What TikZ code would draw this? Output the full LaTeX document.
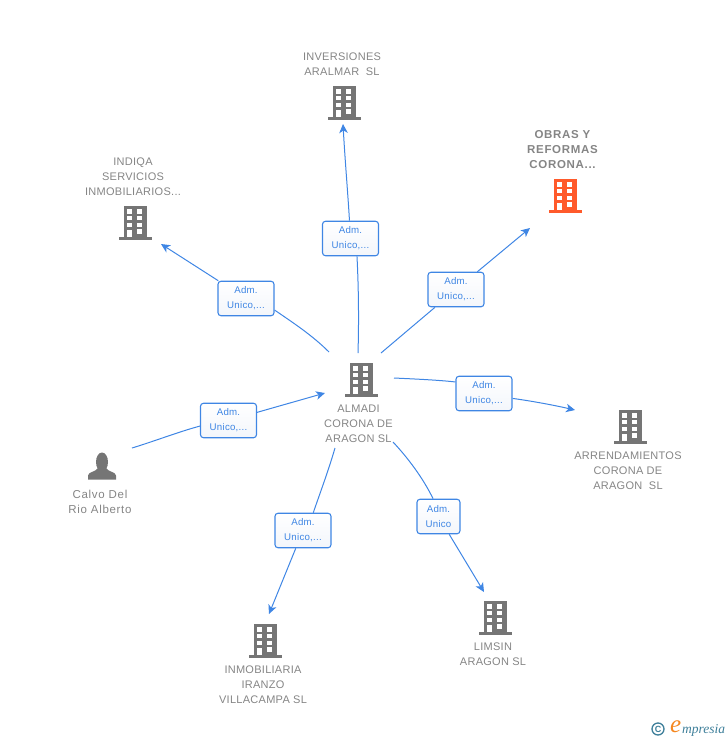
\documentclass[tikz,border=0pt]{standalone}
\usepackage{fontspec}
\setmainfont{Liberation Sans}
\newfontfamily\spaced[LetterSpace=2.5]{Liberation Sans}
\newfontfamily\widespaced[LetterSpace=6]{Liberation Sans}
\newfontfamily\logofont{Liberation Serif}
\newfontfamily\logosans{Liberation Sans}
\usetikzlibrary{arrows.meta,backgrounds,shapes.geometric}
\definecolor{linkblue}{HTML}{3F86E4}
\definecolor{txtgray}{HTML}{858585}
\definecolor{icongray}{HTML}{757575}
\definecolor{orangeic}{HTML}{FF5A2B}
\definecolor{logoblue}{HTML}{3E7F9A}
\definecolor{logoorange}{HTML}{F5871F}
\definecolor{boxshade}{HTML}{F3F6FB}
\tikzset{
  x=1pt,y=-1pt,
  rolebox/.style={draw=linkblue,line width=1.1pt,rounded corners=3pt,top color=white,bottom color=boxshade,minimum width=56pt,minimum height=34.5pt,inner sep=0pt,align=center,text=linkblue,font=\fontsize{9.7}{15}\selectfont\spaced},
  nametxt/.style={inner sep=0pt,align=center,text=txtgray,font=\fontsize{11}{15}\selectfont\spaced},
  conn/.style={draw=linkblue,line width=1pt},
  arr/.style={conn,-{Stealth[length=9pt,width=8.5pt,inset=2.5pt]}},
  pics/building/.style={code={
    \fill[#1] (-11,-17) rectangle (11.5,15);
    \fill[#1] (-16,14) rectangle (16.5,17);
    \foreach \yy in {-13.7,-7,-0.3}{
      \fill[white] (-7.8,\yy) rectangle (-2.9,\yy+4.2);
      \fill[white] (2.3,\yy) rectangle (7.2,\yy+4.2);
    }
    \fill[white] (2.3,6.4) rectangle (7.2,10.6);
    \fill[white] (-7.8,7) rectangle (-2.9,14);
  }},
  pics/person/.style={code={
    \fill[icongray] (0,-5) ellipse (6 and 9.5);
    \fill[icongray] (-14,12.5) -- (-14,8.5) .. controls (-13.5,4.5) and (-6,5) .. (-4,1) -- (4,1)
      .. controls (6,5) and (13.5,4.5) .. (14,8.5) -- (14,12.5) -- cycle;
  }}
}
\begin{document}
\begin{tikzpicture}
\useasboundingbox (0,0) rectangle (728,740);
% icons
\pic at (361,380) {building=icongray};
\pic at (344,103) {building=icongray};
\pic at (565,196) {building=orangeic};
\pic at (135,223) {building=icongray};
\pic at (630,427) {building=icongray};
\pic at (495,618) {building=icongray};
\pic at (265,641) {building=icongray};
\pic at (102,467) {person};
% names
\node[nametxt] (almadi) at (358.5,424) {ALMADI\\CORONA DE\\ARAGON SL};
\node[nametxt] (inver) at (342,64.5) {INVERSIONES\\ARALMAR\ \ SL};
\node[nametxt,font=\fontsize{11.5}{15}\selectfont\bfseries\widespaced] (obras) at (562.5,150) {OBRAS Y\\REFORMAS\\CORONA...};
\node[nametxt] (indiqa) at (133,177) {INDIQA\\SERVICIOS\\INMOBILIARIOS...};
\node[nametxt] (arrend) at (628,471) {ARRENDAMIENTOS\\CORONA DE\\ARAGON\ \ SL};
\node[nametxt] (limsin) at (493,654.5) {LIMSIN\\ARAGON SL};
\node[nametxt] (inmob) at (263,685) {INMOBILIARIA\\IRANZO\\VILLACAMPA SL};
\node[nametxt,font=\fontsize{11.5}{15}\selectfont\widespaced] (calvo) at (100,501.5) {Calvo Del\\Rio Alberto};
% role labels
\node[rolebox] (l1) at (350.5,238.5) {Adm.\\Unico,...};
\node[rolebox] (l2) at (456,289.5) {Adm.\\Unico,...};
\node[rolebox] (l3) at (246,298.5) {Adm.\\Unico,...};
\node[rolebox] (l4) at (484,393.5) {Adm.\\Unico,...};
\node[rolebox,minimum width=43pt] (l5) at (438.5,516.5) {Adm.\\Unico};
\node[rolebox] (l6) at (303,530.5) {Adm.\\Unico,...};
\node[rolebox] (l7) at (228.5,420.5) {Adm.\\Unico,...};
% free ends
\coordinate (s1) at (358,353); \coordinate (e1) at (343,124);
\coordinate (s2) at (381,353); \coordinate (e2) at (530,228);
\coordinate (s3) at (329,352); \coordinate (e3) at (161,244);
\coordinate (s4) at (394,378); \coordinate (e4) at (575,410);
\coordinate (s5) at (393,442); \coordinate (e5) at (484,592);
\coordinate (s6) at (335,448); \coordinate (e6) at (269,614);
\coordinate (s7) at (132,448); \coordinate (e7) at (325,393);
% connectors
\begin{scope}[on background layer]
\draw[conn] (s1) .. controls (359,320) and (358.5,285) .. (l1.-70);
\draw[arr] (l1) .. controls (348,195) and (345,160) .. (e1);
\draw[conn] (s2) -- (l2);
\draw[arr] (l2) -- (e2);
\draw[conn] (s3) .. controls (312,335) and (292,322) .. (l3.-22);
\draw[arr] (l3) -- (e3);
\draw[conn] (s4) .. controls (415,379) and (438,380) .. (l4.158);
\draw[arr] (l4) .. controls (510,398) and (540,402) .. (e4);
\draw[conn] (s5) .. controls (408,458) and (423,478) .. (l5.107);
\draw[arr] (l5) -- (e5);
\draw[conn] (s6) .. controls (328,472) and (320,493) .. (l6.60);
\draw[arr] (l6) -- (e6);
\draw[conn] (s7) .. controls (155,441) and (178,432) .. (l7.191);
\draw[arr] (l7) -- (e7);
\end{scope}
% logo
\node[circle,draw=logoblue,line width=1.3pt,minimum size=12pt,inner sep=0pt,text=logoblue,font=\fontsize{9}{9}\selectfont\bfseries\logosans] (copy) at (658,729) {C};
\node[inner sep=0pt,anchor=west,text=logoorange,font=\fontsize{25}{25}\selectfont\logofont\itshape] (loge) at (670,727) {e};
\node[inner sep=0pt,anchor=west,text=logoblue,font=\fontsize{13.5}{14}\selectfont\logofont\itshape] (logt) at (682,730) {mpresia};
\end{tikzpicture}
\end{document}
